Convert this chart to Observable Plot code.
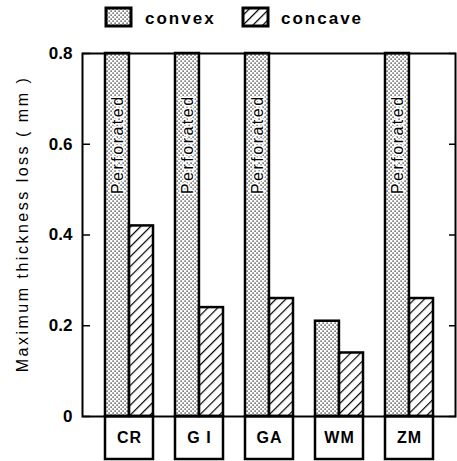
<!DOCTYPE html>
<html><head><meta charset="utf-8">
<script src="https://cdn.jsdelivr.net/npm/d3@7"></script>
<script src="https://cdn.jsdelivr.net/npm/@observablehq/plot@0.6"></script>
<style>
body{margin:0;background:#fff;}
#chart svg{font-family:"Liberation Sans", Arial, sans-serif;background:#fff;}
</style></head><body><div id="chart"></div>
<script>
// ---- data ----
const categories = ["CR", "GI", "GA", "WM", "ZM"];
const categoryLabels = ["CR", "G I", "GA", "WM", "ZM"];
const convex = [null, null, null, 0.21, null];   // null = perforated (off the scale)
const concave = [0.42, 0.24, 0.26, 0.14, 0.26];
const yTicks = [0, 0.2, 0.4, 0.6, 0.8];
const yMax = 0.8;
const seriesNames = ["convex", "concave"];
const perforatedText = "Perforated";
const yLabel = "Maximum thickness loss ( mm )";

// ---- layout ----
const W = 457, H = 461, mL = 82, mR = 2, mT = 53, mB = 45;
const pInner = 0.32, pOuter = 0.296;
const step = (W - mL - mR) / (categories.length - pInner + 2 * pOuter);
const bw = step * (1 - pInner);
const half = bw / 2;

const convexData = categories.map((c, i) => ({category: c, value: convex[i] ?? yMax, perforated: convex[i] == null}));
const concaveData = categories.map((c, i) => ({category: c, value: concave[i]}));
const labelOf = Object.fromEntries(categories.map((c, i) => [c, categoryLabels[i]]));

const tickFmt = d => d === 0 ? "0" : d.toFixed(1);

const plot = Plot.plot({
  width: W, height: H,
  marginLeft: mL, marginRight: mR, marginTop: mT, marginBottom: mB,
  x: {domain: categories, paddingInner: pInner, paddingOuter: pOuter, align: 0.5, label: null},
  y: {domain: [0, yMax], label: null},
  marks: [
    Plot.barY(convexData, {x: "category", y: "value", fill: "url(#dots)", stroke: "black", strokeWidth: 2.5, insetRight: half}),
    Plot.barY(concaveData, {x: "category", y: "value", fill: "url(#hatch)", stroke: "black", strokeWidth: 2.5, insetLeft: half}),
    Plot.text(convexData.filter(d => d.perforated), {x: "category", y: yTicks[3], text: () => perforatedText, rotate: -90, dx: -bw / 4,
      fontSize: 16, fill: "black", stroke: "white", strokeWidth: 3}),
    Plot.frame({stroke: "black", strokeWidth: 2}),
    Plot.axisY(yTicks, {anchor: "left", tickSize: -8, tickPadding: 18, tickFormat: tickFmt, fontSize: 17, fontWeight: "bold", stroke: "black", strokeWidth: 1.5, label: null}),
    Plot.axisY(yTicks, {anchor: "right", tickSize: -7, tickFormat: () => "", stroke: "black", strokeWidth: 1.5, label: null}),
    Plot.axisX({tickSize: 0, tickPadding: 15, tickFormat: d => labelOf[d], fontSize: 16, fontWeight: "bold", label: null}),
    Plot.text([yLabel], {frameAnchor: "left", textAnchor: "middle", rotate: -90, dx: -60, dy: -11, fontSize: 16, fill: "black"})
  ]
});

const svg = d3.select(plot);
const defs = svg.insert("defs", ":first-child");
const dots = defs.append("pattern").attr("id", "dots").attr("patternUnits", "userSpaceOnUse").attr("width", 4).attr("height", 4);
dots.append("rect").attr("width", 4).attr("height", 4).attr("fill", "white");
dots.append("rect").attr("x", 0.5).attr("y", 0.5).attr("width", 1.2).attr("height", 1.2).attr("fill", "black");
dots.append("rect").attr("x", 2.5).attr("y", 2.5).attr("width", 1.2).attr("height", 1.2).attr("fill", "black");
const hatch = defs.append("pattern").attr("id", "hatch").attr("patternUnits", "userSpaceOnUse").attr("width", 7).attr("height", 7).attr("patternTransform", "rotate(45)");
hatch.append("rect").attr("width", 7).attr("height", 7).attr("fill", "white");
hatch.append("line").attr("x1", 0).attr("y1", 0).attr("x2", 0).attr("y2", 7).attr("stroke", "black").attr("stroke-width", 2.4);

// text styling
svg.selectAll("text").each(function () {
  const t = this.textContent;
  if (t === perforatedText) d3.select(this).style("letter-spacing", "2.5px");
  if (t === yLabel) d3.select(this).style("letter-spacing", "2.5px");
  if (categoryLabels.includes(t)) d3.select(this).style("letter-spacing", "1px");
});

// category boxes under the baseline
const xs = plot.scale("x"), ys = plot.scale("y");
const y0 = ys.apply(0);
const boxes = svg.append("g");
categories.forEach(c => {
  boxes.append("rect").attr("x", xs.apply(c)).attr("y", y0).attr("width", xs.bandwidth).attr("height", H - 2 - y0)
    .attr("fill", "none").attr("stroke", "black").attr("stroke-width", 2.5);
});

// legend
const leg = svg.append("g").style("font-size", "17px").style("font-weight", "bold").style("letter-spacing", "2px").attr("text-anchor", "start");
const legendItems = [{name: seriesNames[0], fill: "url(#dots)", x: 106, tx: 145}, {name: seriesNames[1], fill: "url(#hatch)", x: 243, tx: 281}];
legendItems.forEach(it => {
  leg.append("rect").attr("x", it.x).attr("y", 8).attr("width", 25).attr("height", 18).attr("fill", it.fill).attr("stroke", "black").attr("stroke-width", 3);
  leg.append("text").attr("x", it.tx).attr("y", 18).attr("dy", "0.35em").text(it.name);
});

document.getElementById("chart").append(plot);
</script></body></html>
